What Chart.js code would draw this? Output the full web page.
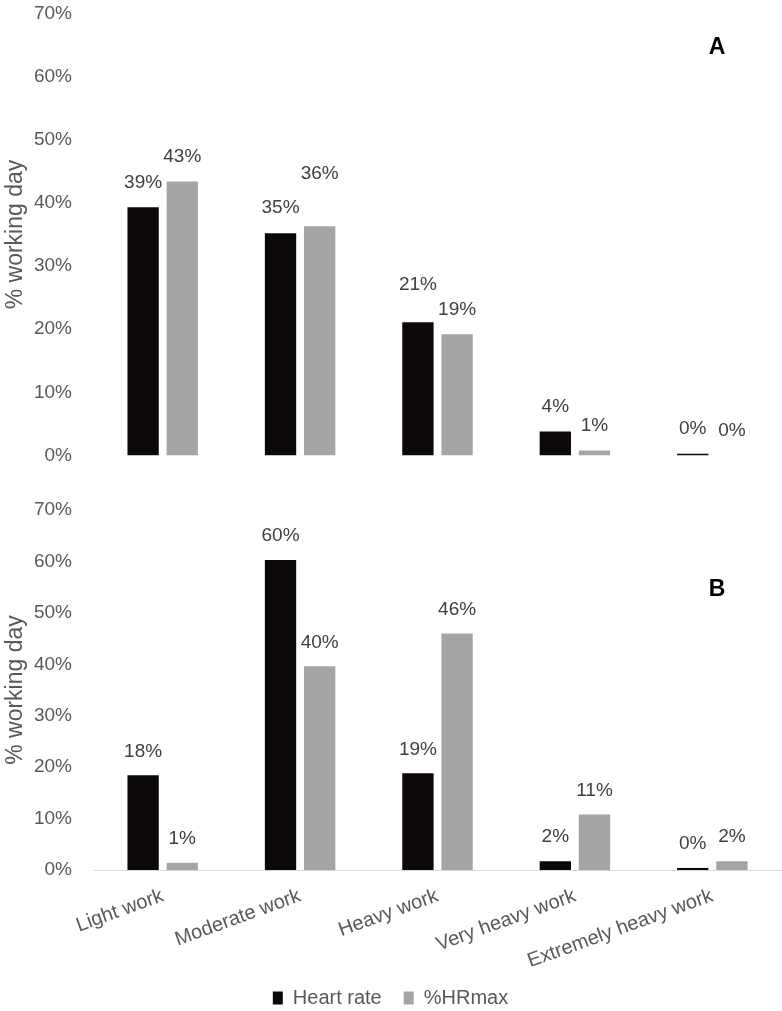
<!DOCTYPE html>
<html>
<head>
<meta charset="utf-8">
<script src="https://cdn.jsdelivr.net/npm/chart.js@4/dist/chart.umd.min.js"></script>
<style>
  html, body { margin: 0; padding: 0; background: #fff; overflow: hidden; }
  #wrap { position: relative; width: 782px; height: 1011px; overflow: hidden; }
  #cA { position: absolute; left: 0; top: -20px; }
  #cB { position: absolute; left: 0; top: 470px; }
</style>
</head>
<body>
<div id="wrap">
  <canvas id="cA" width="782" height="509"></canvas>
  <canvas id="cB" width="782" height="541"></canvas>
</div>
<script>
// ---------- DATA ----------
const categories = ['Light work', 'Moderate work', 'Heavy work', 'Very heavy work', 'Extremely heavy work'];
const seriesNames = ['Heart rate', '%HRmax'];
const heartRateA = [39.3, 35.2, 21.1, 3.8, 0.3];
const hrMaxA     = [43.4, 36.3, 19.2, 0.8, 0.0];
const heartRateB = [18.4, 60.3, 18.8, 1.7, 0.4];
const hrMaxB     = [1.4, 39.6, 46.0, 10.8, 1.7];
const yTickValues = [0, 10, 20, 30, 40, 50, 60, 70];
const panelLetters = ['A', 'B'];

// ---------- STYLE ----------
const FONT = "'Liberation Sans', Arial, sans-serif";
const COL_BLACK = '#0c0808';
const COL_GRAY = '#a5a5a5';
const TICK_COL = '#595959';
const LABEL_COL = '#404040';
// extra lift (px) for individual value labels [dataset][index]
const liftA = [[0, 0, 13, 0, 0], [0, 28, 0, 0, 0]];
const liftB = [[0, 0, 0, 0, 0], [0, 0, 0, 0, 0]];

function valueLabelPlugin(lift, baseOffset) {
  return {
    id: 'valueLabels',
    afterDatasetsDraw(chart) {
      const ctx = chart.ctx;
      ctx.save();
      ctx.font = '19px ' + FONT;
      ctx.fillStyle = LABEL_COL;
      ctx.textAlign = 'center';
      ctx.textBaseline = 'middle';
      chart.data.datasets.forEach((ds, di) => {
        const meta = chart.getDatasetMeta(di);
        meta.data.forEach((bar, i) => {
          const v = ds.data[i];
          ctx.fillText(Math.round(v) + '%', bar.x, bar.y - baseOffset - lift[di][i]);
        });
      });
      ctx.restore();
    }
  };
}

function letterPlugin(letter, x, y) {
  return {
    id: 'panelLetter',
    afterDraw(chart) {
      const ctx = chart.ctx;
      ctx.save();
      ctx.font = 'bold 23px ' + FONT;
      ctx.fillStyle = '#000';
      ctx.textAlign = 'center';
      ctx.textBaseline = 'middle';
      ctx.fillText(letter, x, y);
      ctx.restore();
    }
  };
}

const legendFitPlugin = {
  id: 'legendFit',
  beforeLayout(chart) {
    const lg = chart.legend;
    if (lg && !lg._patched) {
      const f = lg.fit;
      lg.fit = function () { f.call(this); this.height = 45; };
      lg._patched = true;
    }
  }
};

function yScale(showTitle) {
  return {
    min: 0, max: 70,
    afterBuildTicks: s => { s.ticks = yTickValues.map(v => ({ value: v })); },
    afterFit: s => { s.width = 94; },
    grid: { display: false, drawTicks: false },
    border: { display: false },
    ticks: {
      color: TICK_COL, padding: 22,
      font: { family: FONT, size: 19 },
      callback: v => v + '%'
    },
    title: {
      display: showTitle, text: '% working day', color: TICK_COL,
      font: { family: FONT, size: 23 }, padding: { top: 2, bottom: 0 }
    }
  };
}

function datasets(hr, hm) {
  return [
    { label: seriesNames[0], data: hr, backgroundColor: COL_BLACK, barPercentage: 0.8, categoryPercentage: 0.57 },
    { label: seriesNames[1], data: hm, backgroundColor: COL_GRAY, barPercentage: 0.8, categoryPercentage: 0.57 }
  ];
}

Chart.defaults.font.family = FONT;

new Chart(document.getElementById('cA'), {
  type: 'bar',
  data: { labels: categories, datasets: datasets(heartRateA, hrMaxA) },
  options: {
    responsive: false, animation: false,
    layout: { padding: { top: 12, bottom: 16, left: 0, right: 1 } },
    plugins: { legend: { display: false }, tooltip: { enabled: false } },
    scales: {
      x: { display: false },
      y: yScale(true)
    }
  },
  plugins: [valueLabelPlugin(liftA, 25), letterPlugin(panelLetters[0], 717, 68)]
});

new Chart(document.getElementById('cB'), {
  type: 'bar',
  data: { labels: categories, datasets: datasets(heartRateB, hrMaxB) },
  options: {
    responsive: false, animation: false,
    layout: { padding: { top: 40, bottom: 0, left: 0, right: 1 } },
    plugins: {
      tooltip: { enabled: false },
      legend: {
        position: 'bottom',
        labels: {
          boxWidth: 10, boxHeight: 13, padding: 22, color: TICK_COL,
          font: { family: FONT, size: 20 }
        }
      }
    },
    scales: {
      x: {
        afterFit: s => { s.height = 96; },
        grid: { display: false, drawTicks: false },
        border: { display: true, color: '#d9d9d9', width: 1 },
        ticks: {
          color: TICK_COL, padding: 14, minRotation: 20, maxRotation: 20,
          font: { family: FONT, size: 20 }
        }
      },
      y: yScale(true)
    }
  },
  plugins: [valueLabelPlugin(liftB, 24), letterPlugin(panelLetters[1], 717, 120), legendFitPlugin]
});
</script>
</body>
</html>
